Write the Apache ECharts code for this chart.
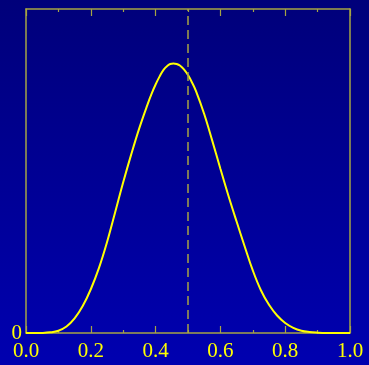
<!DOCTYPE html>
<html><head><meta charset="utf-8">
<script src="https://cdn.jsdelivr.net/npm/echarts@6/dist/echarts.min.js"></script>
<style>html,body{margin:0;padding:0;background:#00007a}#c{width:369px;height:365px}</style>
</head><body><div id="c"></div>
<script>
const xs = [0,0.025,0.05,0.075,0.1,0.125,0.15,0.175,0.2,0.225,0.25,0.275,0.3,0.325,0.35,0.375,0.3875,0.4,0.4125,0.425,0.4375,0.445,0.455,0.465,0.475,0.4875,0.5,0.5125,0.525,0.55,0.575,0.6,0.625,0.65,0.675,0.7,0.725,0.75,0.775,0.8,0.825,0.85,0.875,0.9,0.925,0.95,0.975,1];
const ys = [0,0,0.0003,0.002,0.007,0.02,0.045,0.083,0.135,0.2,0.28,0.372,0.465,0.552,0.633,0.705,0.738,0.767,0.792,0.813,0.8255,0.8302,0.832,0.8302,0.8255,0.8135,0.796,0.773,0.746,0.676,0.593,0.507,0.423,0.344,0.267,0.193,0.132,0.087,0.054,0.031,0.016,0.007,0.003,0.001,0,0,0,0];
const xTickLabels = ['0.0','0.2','0.4','0.6','0.8','1.0'];
const yTickLabels = ['0'];
const refX = 0.5;

const frame = '#a6a444';
const yel = '#ffff00';
const font = 'Liberation Serif';
const chart = echarts.init(document.getElementById('c'));
const axCommon = {min:0,max:1,interval:0.2,
  axisLine:{show:true,onZero:false,lineStyle:{color:frame,width:1.5}},
  axisTick:{show:true,inside:true,length:7,lineStyle:{color:frame,width:1.2}},
  minorTick:{show:true,splitNumber:2,length:3,lineStyle:{color:frame,width:1.2}},
  splitLine:{show:false}};
chart.setOption({
  animation:false,
  backgroundColor:new echarts.graphic.LinearGradient(0,0,0,1,[{offset:0,color:'#00007a'},{offset:1,color:'#0000b0'}]),
  grid:{left:26,right:19,top:9,bottom:32},
  xAxis:[
    Object.assign({type:'value',position:'bottom',
      axisLabel:{color:yel,fontFamily:font,fontSize:21,margin:8,
        formatter:v=>{const i=Math.round(v/0.2);return Math.abs(v-i*0.2)<1e-6?xTickLabels[i]:'';}}},axCommon),
    Object.assign({type:'value',position:'top',axisLabel:{show:false}},axCommon)
  ],
  yAxis:[
    {type:'value',min:0,max:1,interval:1,position:'left',
      axisLine:{show:true,onZero:false,lineStyle:{color:frame,width:1.5}},axisTick:{show:false},splitLine:{show:false},
      axisLabel:{color:yel,fontFamily:font,fontSize:21,margin:4,formatter:v=>v===0?yTickLabels[0]:''}},
    {type:'value',min:0,max:1,interval:1,position:'right',
      axisLine:{show:true,onZero:false,lineStyle:{color:frame,width:1.5}},axisTick:{show:false},splitLine:{show:false},axisLabel:{show:false}}
  ],
  series:[{
    type:'line',smooth:0.4,symbol:'none',
    data:xs.map((x,i)=>[x,ys[i]]),
    lineStyle:{color:yel,width:2},
    markLine:{silent:true,symbol:'none',label:{show:false},
      lineStyle:{color:frame,type:[9,5],width:1.5},
      data:[{xAxis:refX}]}
  }]
});
</script></body></html>
